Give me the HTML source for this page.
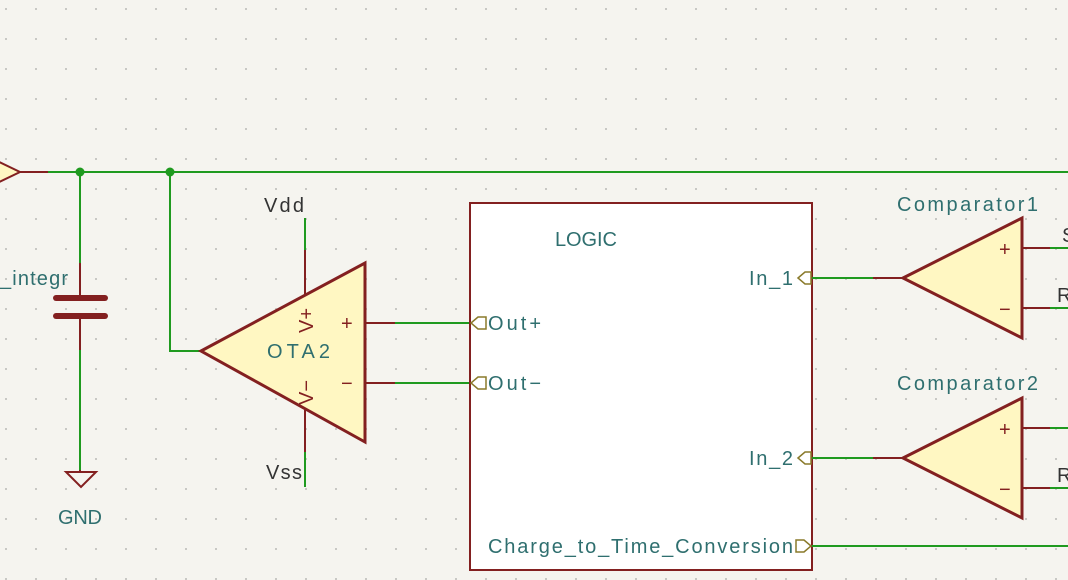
<!DOCTYPE html>
<html><head><style>
html,body{margin:0;padding:0;background:#f5f4ef;}
svg{display:block}
text{font-family:"Liberation Sans",sans-serif;font-size:20px}
</style></head><body>
<svg width="1068" height="580" viewBox="0 0 1068 580" xmlns="http://www.w3.org/2000/svg">
<defs><pattern id="g" x="5" y="8" width="30" height="30" patternUnits="userSpaceOnUse"><rect x="0" y="0" width="2" height="2" fill="#c8c8c4"/></pattern></defs>
<rect width="1068" height="580" fill="#f5f4ef"/>
<rect width="1068" height="580" fill="url(#g)"/>
<g fill="none" stroke-width="2">
<polygon points="-5,160 20,172 -5,184" fill="#fff7c2" stroke="#832020"/>
<line x1="20" y1="172" x2="48" y2="172" stroke="#832020"/>
<line x1="48" y1="172" x2="1068" y2="172" stroke="#1f9a1f"/>
<line x1="80" y1="172" x2="80" y2="263" stroke="#1f9a1f"/>
<line x1="80" y1="350" x2="80" y2="470" stroke="#1f9a1f"/>
<line x1="80" y1="263" x2="80" y2="298" stroke="#832020"/>
<line x1="80" y1="316" x2="80" y2="350" stroke="#832020"/>
<line x1="80" y1="470" x2="80" y2="473" stroke="#832020"/>
<line x1="56" y1="298" x2="105" y2="298" stroke="#832020" stroke-width="6" stroke-linecap="round"/>
<line x1="56" y1="316" x2="105" y2="316" stroke="#832020" stroke-width="6" stroke-linecap="round"/>
<polygon points="66,472 96,472 81,487" stroke="#832020"/>
<polyline points="170,172 170,351 200,351" stroke="#1f9a1f"/>
<polygon points="201,351 365,263 365,442" fill="#fff7c2" stroke="#832020" stroke-width="3"/>
<line x1="305" y1="218" x2="305" y2="250" stroke="#1f9a1f"/>
<line x1="305" y1="250" x2="305" y2="294" stroke="#832020"/>
<line x1="305" y1="410" x2="305" y2="452" stroke="#832020"/>
<line x1="305" y1="452" x2="305" y2="487" stroke="#1f9a1f"/>
<line x1="365" y1="323" x2="395" y2="323" stroke="#832020"/>
<line x1="395" y1="323" x2="470" y2="323" stroke="#1f9a1f"/>
<line x1="365" y1="383" x2="395" y2="383" stroke="#832020"/>
<line x1="395" y1="383" x2="470" y2="383" stroke="#1f9a1f"/>
<rect x="470" y="203" width="342" height="367" fill="#ffffff" stroke="#832020"/>
<polygon points="471,323 478,317 486,317 486,329 478,329" stroke="#8a7a2a" stroke-width="1.5"/>
<polygon points="471,383 478,377 486,377 486,389 478,389" stroke="#8a7a2a" stroke-width="1.5"/>
<polygon points="798,278 805,272 811,272 811,284 805,284" stroke="#8a7a2a" stroke-width="1.5"/>
<polygon points="798,458 805,452 811,452 811,464 805,464" stroke="#8a7a2a" stroke-width="1.5"/>
<polygon points="811,546 804,540 796,540 796,552 804,552" stroke="#8a7a2a" stroke-width="1.5"/>
<line x1="812" y1="278" x2="873" y2="278" stroke="#1f9a1f"/>
<line x1="873" y1="278" x2="903" y2="278" stroke="#832020"/>
<polygon points="903,278 1022,218 1022,338" fill="#fff7c2" stroke="#832020" stroke-width="3"/>
<line x1="1022" y1="248" x2="1050" y2="248" stroke="#832020"/>
<line x1="1050" y1="248" x2="1068" y2="248" stroke="#1f9a1f"/>
<line x1="1022" y1="308" x2="1050" y2="308" stroke="#832020"/>
<line x1="1050" y1="308" x2="1068" y2="308" stroke="#1f9a1f"/>
<line x1="812" y1="458" x2="873" y2="458" stroke="#1f9a1f"/>
<line x1="873" y1="458" x2="903" y2="458" stroke="#832020"/>
<polygon points="903,458 1022,398 1022,518" fill="#fff7c2" stroke="#832020" stroke-width="3"/>
<line x1="1022" y1="428" x2="1050" y2="428" stroke="#832020"/>
<line x1="1050" y1="428" x2="1068" y2="428" stroke="#1f9a1f"/>
<line x1="1022" y1="488" x2="1050" y2="488" stroke="#832020"/>
<line x1="1050" y1="488" x2="1068" y2="488" stroke="#1f9a1f"/>
<line x1="812" y1="546" x2="1068" y2="546" stroke="#1f9a1f"/>
</g>
<circle cx="80" cy="172" r="4.5" fill="#1f9a1f"/>
<circle cx="170" cy="172" r="4.5" fill="#1f9a1f"/>
<g fill="#2f6f6f">
<text x="0" y="285" textLength="68" lengthAdjust="spacing">_integr</text>
<text x="58" y="524" textLength="44" lengthAdjust="spacing">GND</text>
<text x="267" y="358" textLength="63" lengthAdjust="spacing">OTA2</text>
<text x="555" y="246" textLength="62" lengthAdjust="spacing">LOGIC</text>
<text x="897" y="211" textLength="141" lengthAdjust="spacing">Comparator1</text>
<text x="897" y="390" textLength="141" lengthAdjust="spacing">Comparator2</text>
<text x="488" y="330" textLength="53" lengthAdjust="spacing">Out+</text>
<text x="488" y="390" textLength="53" lengthAdjust="spacing">Out−</text>
<text x="749" y="285" textLength="44" lengthAdjust="spacing">In_1</text>
<text x="749" y="465" textLength="44" lengthAdjust="spacing">In_2</text>
<text x="488" y="553" textLength="305" lengthAdjust="spacing">Charge_to_Time_Conversion</text>
</g>
<g fill="#333">
<text x="264" y="212" textLength="40" lengthAdjust="spacing">Vdd</text>
<text x="266" y="479" textLength="36" lengthAdjust="spacing">Vss</text>
</g>
<g fill="#832020">
<text x="341" y="330">+</text>
<text x="341" y="390">−</text>
<text x="999" y="256">+</text>
<text x="999" y="316">−</text>
<text x="999" y="436">+</text>
<text x="999" y="496">−</text>
<text transform="translate(313,333) rotate(-90)">V+</text>
<text transform="translate(313,405) rotate(-90)">V−</text>
</g>
<g fill="#333"><text x="1057" y="302">R</text><text x="1057" y="482">R</text><text x="1062" y="242">S</text></g>
</svg>
</body></html>
